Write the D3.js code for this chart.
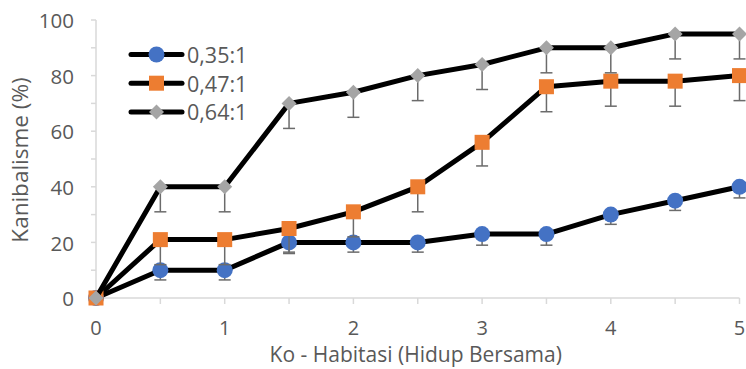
<!DOCTYPE html>
<html>
<head>
<meta charset="utf-8">
<script src="https://cdn.jsdelivr.net/npm/d3@7"></script>
<style>
  html, body { margin: 0; padding: 0; background: #fff; }
  svg { display: block; font-family: "Open Sans", sans-serif; }
</style>
</head>
<body>
<svg id="chart" width="746" height="369"></svg>
<script>
// Co-habitation time (x) and cannibalism rate (%) for three ratios
const xValues = [0, 0.5, 1, 1.5, 2, 2.5, 3, 3.5, 4, 4.5, 5];
const seriesNames = ["0,35:1", "0,47:1", "0,64:1"];
const values035 = [0, 10, 10, 20, 20, 20, 23, 23, 30, 35, 40];
const values047 = [0, 21, 21, 25, 31, 40, 56, 76, 78, 78, 80];
const values064 = [0, 40, 40, 70, 74, 80, 84, 90, 90, 95, 95];
// Lower error bar lengths
const err035 = [0, 3.5, 3.5, 3.5, 3.5, 3.5, 4, 4, 3.5, 3.5, 4];
const err047 = [0, 9, 9, 9, 9, 9, 8.5, 9, 9, 9, 9];
const err064 = [0, 9, 9, 9, 9, 9, 9, 9, 9, 9, 9];
const xTicks = [0, 1, 2, 3, 4, 5];
const yTicks = [0, 20, 40, 60, 80, 100];
const xTitle = "Ko - Habitasi (Hidup Bersama)";
const yTitle = "Kanibalisme (%)";

const series = [
  { name: seriesNames[0], values: values035, err: err035, shape: "circle", color: "#4472C4" },
  { name: seriesNames[1], values: values047, err: err047, shape: "square", color: "#ED7D31" },
  { name: seriesNames[2], values: values064, err: err064, shape: "diamond", color: "#A5A5A5" }
];

const svg = d3.select("#chart");
const x = d3.scaleLinear().domain([0, 5]).range([96, 739.5]);
const y = d3.scaleLinear().domain([0, 100]).range([298, 20]);
const textColor = "#595959";
const axisColor = "#d9d9d9";

// y axis: line, minor ticks every 10, labels every 20
svg.append("line").attr("x1", x(0)).attr("x2", x(0)).attr("y1", y(100)).attr("y2", y(0))
  .attr("stroke", axisColor).attr("stroke-width", 1.5);
svg.append("g").selectAll("line").data(d3.range(0, 101, 10)).join("line")
  .attr("x1", x(0) - 5).attr("x2", x(0)).attr("y1", d => y(d)).attr("y2", d => y(d))
  .attr("stroke", axisColor).attr("stroke-width", 1.5);
svg.append("g").selectAll("text").data(yTicks).join("text")
  .attr("x", 74).attr("y", d => y(d) + 1).attr("dy", "0.35em")
  .attr("text-anchor", "end").attr("fill", textColor).attr("font-size", 20.5)
  .text(d => d);

// x axis: line, ticks every 0.5, labels at integers
svg.append("line").attr("x1", x(0)).attr("x2", x(5)).attr("y1", y(0)).attr("y2", y(0))
  .attr("stroke", axisColor).attr("stroke-width", 1.5);
svg.append("g").selectAll("line").data(xValues).join("line")
  .attr("x1", d => x(d)).attr("x2", d => x(d)).attr("y1", y(0)).attr("y2", y(0) + 6)
  .attr("stroke", axisColor).attr("stroke-width", 1.5);
svg.append("g").selectAll("text").data(xTicks).join("text")
  .attr("x", d => x(d)).attr("y", 328).attr("dy", "0.35em")
  .attr("text-anchor", "middle").attr("fill", textColor).attr("font-size", 20)
  .text(d => d);

// axis titles
svg.append("text").attr("x", (x(0) + x(5)) / 2 - 2).attr("y", 355).attr("dy", "0.35em")
  .attr("text-anchor", "middle").attr("fill", textColor).attr("font-size", 21).text(xTitle);
svg.append("text").attr("transform", `translate(20,160) rotate(-90)`)
  .attr("dy", "0.35em").attr("text-anchor", "middle").attr("fill", textColor)
  .attr("font-size", 22.5).text(yTitle);

const line = d3.line().x((d, i) => x(xValues[i])).y(d => y(d));

function drawMarker(g, shape, color, cx, cy) {
  if (shape === "circle") {
    g.append("circle").attr("cx", cx).attr("cy", cy).attr("r", 8).attr("fill", color);
  } else if (shape === "square") {
    g.append("rect").attr("x", cx - 7.5).attr("y", cy - 7.5).attr("width", 15).attr("height", 15)
      .attr("fill", color);
  } else {
    const s = 7.5;
    g.append("path").attr("d", `M${cx},${cy - s}L${cx + s},${cy}L${cx},${cy + s}L${cx - s},${cy}Z`)
      .attr("fill", color);
  }
}

series.forEach(s => {
  const g = svg.append("g");
  g.append("path").datum(s.values).attr("d", line).attr("fill", "none")
    .attr("stroke", "#000").attr("stroke-width", 5).attr("stroke-linejoin", "round")
    .attr("stroke-linecap", "round");
  // minus error bars
  s.values.forEach((v, i) => {
    if (!s.err[i]) return;
    const cx = x(xValues[i]);
    g.append("line").attr("x1", cx).attr("x2", cx).attr("y1", y(v)).attr("y2", y(v - s.err[i]))
      .attr("stroke", "#6b6b6b").attr("stroke-width", 1.5);
    g.append("line").attr("x1", cx - 6).attr("x2", cx + 6).attr("y1", y(v - s.err[i])).attr("y2", y(v - s.err[i]))
      .attr("stroke", "#6b6b6b").attr("stroke-width", 1.5);
  });
  s.values.forEach((v, i) => drawMarker(g, s.shape, s.color, x(xValues[i]), y(v)));
});

// legend
const legend = svg.append("g");
series.forEach((s, i) => {
  const ly = 54.5 + i * 28.7;
  legend.append("line").attr("x1", 131).attr("x2", 182).attr("y1", ly).attr("y2", ly)
    .attr("stroke", "#000").attr("stroke-width", 5).attr("stroke-linecap", "round");
  drawMarker(legend, s.shape, s.color, 156.5, ly);
  legend.append("text").attr("x", 187).attr("y", ly + 1).attr("dy", "0.35em")
    .attr("fill", textColor).attr("font-size", 21.5).text(s.name);
});
</script>
</body>
</html>
